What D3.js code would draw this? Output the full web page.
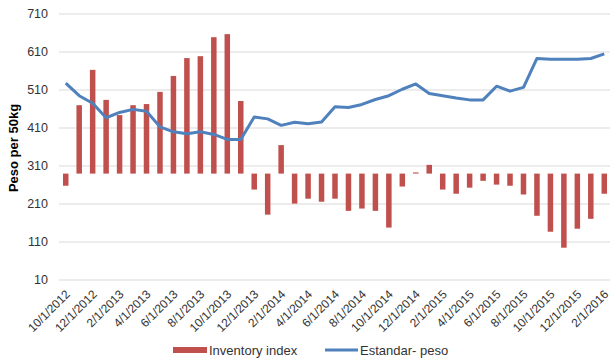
<!DOCTYPE html>
<html lang="en">
<head>
<meta charset="UTF-8">
<title>Inventory index vs peso</title>
<script src="https://cdn.jsdelivr.net/npm/d3@7"></script>
<style>
body{margin:0;background:#fff;}
text{font-family:"Liberation Sans",Arial,sans-serif;}
</style>
</head>
<body>
<script>
// months 10/2012 .. 2/2016
var months = [];
for (var i = 0; i < 41; i++) {
  var m = (9 + i) % 12 + 1, y = 2012 + Math.floor((9 + i) / 12);
  months.push(m + "/1/" + y);
}
var inventory = [258,470,563,484,444,470,473,505,547,594,599,649,657,481,248,182,365,211,224,
  216,224,192,198,192,148,256,293,313,248,237,253,271,261,258,235,179,137,95,145,171,237];
var peso = [528,495,475,437,451,459,454,413,400,395,400,393,380,380,439,434,417,425,421,
  426,466,464,472,485,495,512,526,501,495,489,484,484,520,507,517,593,591,591,591,593,605];
var yTicks = [10,110,210,310,410,510,610,710];
var baseline = 290;

var width = 610, height = 358;
var margin = {left:59, right:0, top:14, bottom:78};

var svg = d3.select("body").append("svg").attr("width",width).attr("height",height);

var x = d3.scaleBand().domain(months).range([margin.left, 611]);
var y = d3.scaleLinear().domain([10,710]).range([280,14]);

// grid
svg.append("g").selectAll("line").data(yTicks).enter().append("line")
  .attr("x1",margin.left).attr("x2",610)
  .attr("y1",function(d){return y(d);}).attr("y2",function(d){return y(d);})
  .attr("stroke","#d9d9d9").attr("stroke-width",1);

// y labels
svg.append("g").selectAll("text").data(yTicks).enter().append("text")
  .attr("x",48).attr("y",function(d){return y(d);}).attr("dy","0.35em")
  .attr("text-anchor","end").attr("font-size","12.5px").attr("fill","#333")
  .text(function(d){return d;});

// bars
var bw = 5.5;
svg.append("g").selectAll("rect").data(inventory).enter().append("rect")
  .attr("fill","#C0504D")
  .attr("x",function(d,i){return x(months[i]) + x.bandwidth()/2 - bw/2;})
  .attr("width",bw)
  .attr("y",function(d){return y(Math.max(d,baseline));})
  .attr("height",function(d){return Math.abs(y(d)-y(baseline));});

// line
var line = d3.line()
  .x(function(d,i){return x(months[i]) + x.bandwidth()/2;})
  .y(function(d){return y(d);});
svg.append("path").datum(peso).attr("d",line)
  .attr("fill","none").attr("stroke","#4F81BD").attr("stroke-width",3)
  .attr("stroke-linejoin","round");

// x labels
svg.append("g").selectAll("text").data(months.filter(function(d,i){return i%2==0;})).enter().append("text")
  .attr("transform",function(d){return "translate("+(x(d)+x.bandwidth()/2+2)+",292) rotate(-45)";})
  .attr("text-anchor","end").attr("dy","0.35em").attr("font-size","12px").attr("fill","#333")
  .text(function(d){return d;});

// y title
svg.append("text").attr("transform","translate(18,148) rotate(-90)")
  .attr("text-anchor","middle").attr("font-size","13px").attr("font-weight","bold").attr("fill","#000")
  .text("Peso per 50kg");

// legend
svg.append("rect").attr("x",173).attr("y",347).attr("width",34).attr("height",6).attr("fill","#C0504D");
svg.append("text").attr("x",209).attr("y",350).attr("dy","0.35em").attr("font-size","13px").attr("fill","#333").text("Inventory index");
svg.append("line").attr("x1",325).attr("x2",358).attr("y1",350).attr("y2",350).attr("stroke","#4F81BD").attr("stroke-width",3);
svg.append("text").attr("x",360).attr("y",350).attr("dy","0.35em").attr("font-size","13px").attr("fill","#333").text("Estandar- peso");
</script>
</body>
</html>
